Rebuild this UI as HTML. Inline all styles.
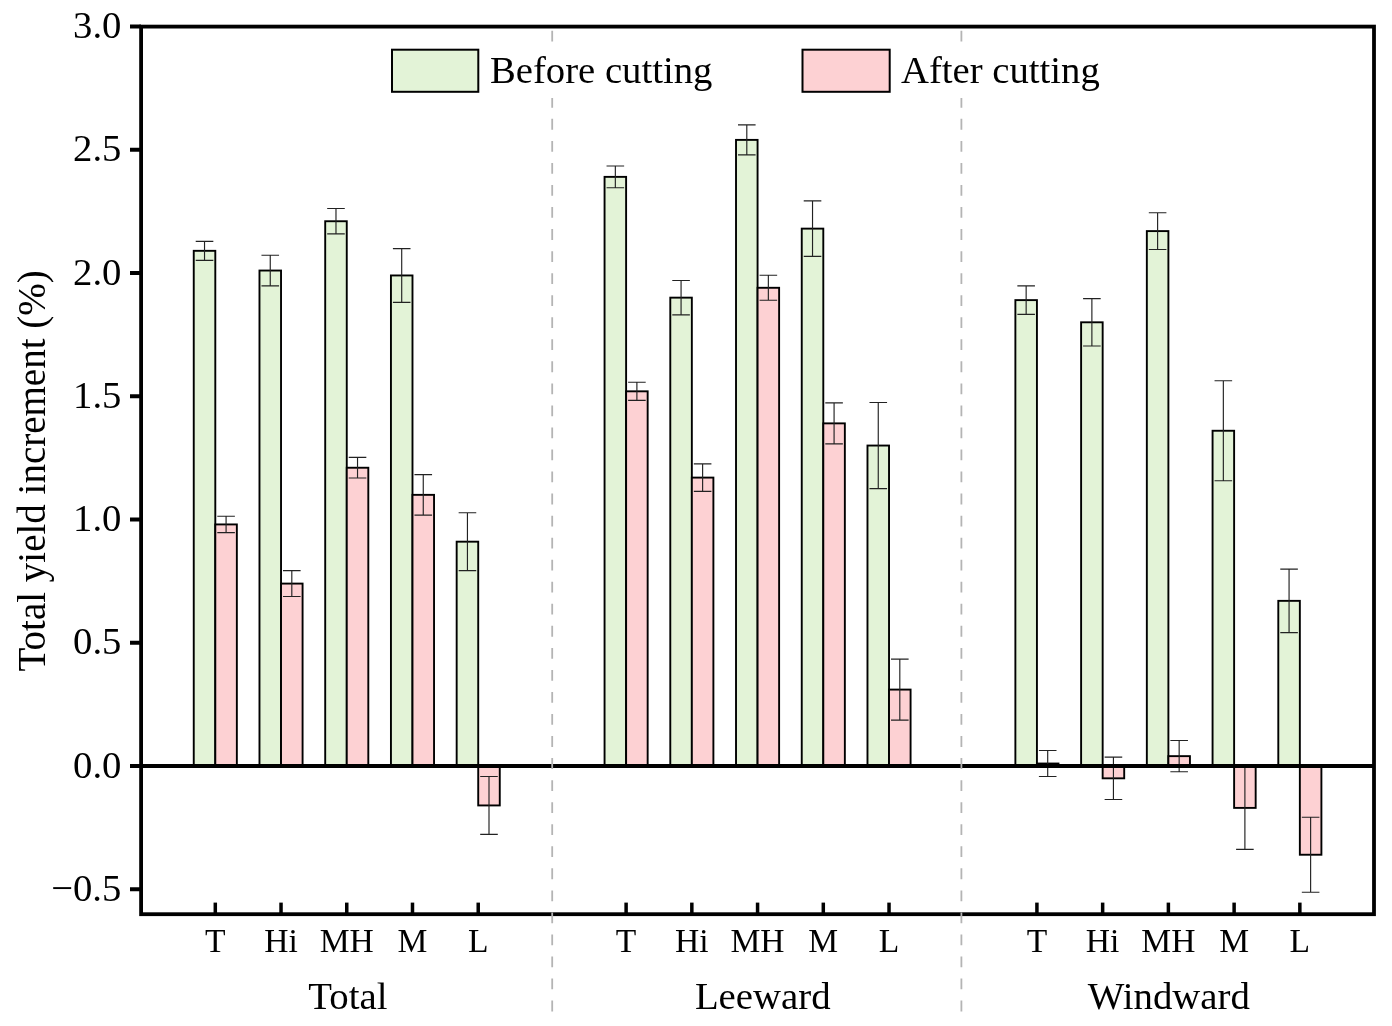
<!DOCTYPE html>
<html><head><meta charset="utf-8"><title>Total yield increment</title>
<style>html,body{margin:0;padding:0;background:#fff;}svg{display:block;will-change:transform;}text{font-family:"Liberation Serif",serif;fill:#000;}</style>
</head><body>
<svg width="1392" height="1026" viewBox="0 0 1392 1026">
<rect x="0" y="0" width="1392" height="1026" fill="#fff"/>
<g stroke="#000" stroke-width="1.9" stroke-linejoin="miter">
<rect x="193.75" y="250.82" width="21.55" height="515.18" fill="#E3F3D7"/>
<rect x="215.30" y="524.43" width="21.55" height="241.57" fill="#FDD1D3"/>
<rect x="259.48" y="270.54" width="21.55" height="495.46" fill="#E3F3D7"/>
<rect x="281.03" y="583.59" width="21.55" height="182.41" fill="#FDD1D3"/>
<rect x="325.21" y="221.24" width="21.55" height="544.76" fill="#E3F3D7"/>
<rect x="346.76" y="467.74" width="21.55" height="298.26" fill="#FDD1D3"/>
<rect x="390.94" y="275.46" width="21.55" height="490.54" fill="#E3F3D7"/>
<rect x="412.49" y="494.85" width="21.55" height="271.15" fill="#FDD1D3"/>
<rect x="456.67" y="541.68" width="21.55" height="224.32" fill="#E3F3D7"/>
<rect x="478.22" y="766.00" width="21.55" height="39.44" fill="#FDD1D3"/>
<rect x="604.56" y="176.87" width="21.55" height="589.13" fill="#E3F3D7"/>
<rect x="626.11" y="391.32" width="21.55" height="374.68" fill="#FDD1D3"/>
<rect x="670.29" y="297.65" width="21.55" height="468.35" fill="#E3F3D7"/>
<rect x="691.84" y="477.60" width="21.55" height="288.40" fill="#FDD1D3"/>
<rect x="736.02" y="139.89" width="21.55" height="626.11" fill="#E3F3D7"/>
<rect x="757.57" y="287.79" width="21.55" height="478.21" fill="#FDD1D3"/>
<rect x="801.75" y="228.63" width="21.55" height="537.37" fill="#E3F3D7"/>
<rect x="823.30" y="423.37" width="21.55" height="342.63" fill="#FDD1D3"/>
<rect x="867.48" y="445.55" width="21.55" height="320.45" fill="#E3F3D7"/>
<rect x="889.03" y="689.59" width="21.55" height="76.41" fill="#FDD1D3"/>
<rect x="1015.38" y="300.12" width="21.55" height="465.88" fill="#E3F3D7"/>
<rect x="1036.92" y="763.53" width="21.55" height="2.47" fill="#FDD1D3"/>
<rect x="1081.11" y="322.30" width="21.55" height="443.70" fill="#E3F3D7"/>
<rect x="1102.65" y="766.00" width="21.55" height="12.33" fill="#FDD1D3"/>
<rect x="1146.84" y="231.10" width="21.55" height="534.90" fill="#E3F3D7"/>
<rect x="1168.38" y="756.14" width="21.55" height="9.86" fill="#FDD1D3"/>
<rect x="1212.57" y="430.76" width="21.55" height="335.24" fill="#E3F3D7"/>
<rect x="1234.12" y="766.00" width="21.55" height="41.90" fill="#FDD1D3"/>
<rect x="1278.30" y="600.85" width="21.55" height="165.15" fill="#E3F3D7"/>
<rect x="1299.85" y="766.00" width="21.55" height="88.74" fill="#FDD1D3"/>
</g>
<g stroke="#222" stroke-width="1.15" fill="none">
<path d="M204.53 241.32V260.32M195.72 241.32H213.33M195.72 260.32H213.33"/>
<path d="M226.08 516.23V532.63M217.28 516.23H234.88M217.28 532.63H234.88"/>
<path d="M270.25 255.24V285.84M261.45 255.24H279.06M261.45 285.84H279.06"/>
<path d="M291.81 570.69V596.49M283.00 570.69H300.61M283.00 596.49H300.61"/>
<path d="M335.98 208.54V233.94M327.18 208.54H344.78M327.18 233.94H344.78"/>
<path d="M357.53 457.44V478.04M348.73 457.44H366.33M348.73 478.04H366.33"/>
<path d="M401.71 248.56V302.36M392.91 248.56H410.51M392.91 302.36H410.51"/>
<path d="M423.26 474.55V515.15M414.46 474.55H432.06M414.46 515.15H432.06"/>
<path d="M467.44 512.78V570.58M458.64 512.78H476.25M458.64 570.58H476.25"/>
<path d="M489.00 776.54V834.34M480.19 776.54H497.80M480.19 834.34H497.80"/>
<path d="M615.34 165.97V187.77M606.54 165.97H624.14M606.54 187.77H624.14"/>
<path d="M636.89 382.22V400.42M628.09 382.22H645.69M628.09 400.42H645.69"/>
<path d="M681.07 280.45V314.85M672.27 280.45H689.87M672.27 314.85H689.87"/>
<path d="M702.62 463.80V491.40M693.82 463.80H711.42M693.82 491.40H711.42"/>
<path d="M746.80 124.89V154.89M738.00 124.89H755.60M738.00 154.89H755.60"/>
<path d="M768.35 275.29V300.29M759.55 275.29H777.15M759.55 300.29H777.15"/>
<path d="M812.53 200.93V256.33M803.73 200.93H821.33M803.73 256.33H821.33"/>
<path d="M834.08 402.87V443.87M825.28 402.87H842.88M825.28 443.87H842.88"/>
<path d="M878.26 402.45V488.65M869.46 402.45H887.06M869.46 488.65H887.06"/>
<path d="M899.81 659.09V720.09M891.01 659.09H908.61M891.01 720.09H908.61"/>
<path d="M1026.15 285.92V314.31M1017.35 285.92H1034.95M1017.35 314.31H1034.95"/>
<path d="M1047.70 750.53V776.53M1038.90 750.53H1056.50M1038.90 776.53H1056.50"/>
<path d="M1091.88 298.60V346.00M1083.08 298.60H1100.68M1083.08 346.00H1100.68"/>
<path d="M1113.43 757.12V799.53M1104.63 757.12H1122.23M1104.63 799.53H1122.23"/>
<path d="M1157.61 212.70V249.50M1148.81 212.70H1166.41M1148.81 249.50H1166.41"/>
<path d="M1179.16 740.54V771.74M1170.36 740.54H1187.96M1170.36 771.74H1187.96"/>
<path d="M1223.34 380.76V480.76M1214.54 380.76H1232.14M1214.54 480.76H1232.14"/>
<path d="M1244.89 766.40V849.40M1236.09 766.40H1253.69M1236.09 849.40H1253.69"/>
<path d="M1289.07 569.14V632.55M1280.27 569.14H1297.87M1280.27 632.55H1297.87"/>
<path d="M1310.62 817.24V892.24M1301.82 817.24H1319.42M1301.82 892.24H1319.42"/>
</g>
<line x1="141" y1="766.0" x2="1374" y2="766.0" stroke="#000" stroke-width="4"/>
<rect x="141.1" y="26.6" width="1232.9" height="887.6" fill="none" stroke="#000" stroke-width="3.8"/>
<g stroke="#000" stroke-width="4">
<line x1="130" y1="26.50" x2="141" y2="26.50"/>
<line x1="130" y1="149.75" x2="141" y2="149.75"/>
<line x1="130" y1="273.00" x2="141" y2="273.00"/>
<line x1="130" y1="396.25" x2="141" y2="396.25"/>
<line x1="130" y1="519.50" x2="141" y2="519.50"/>
<line x1="130" y1="642.75" x2="141" y2="642.75"/>
<line x1="130" y1="766.00" x2="141" y2="766.00"/>
<line x1="130" y1="889.25" x2="141" y2="889.25"/>
</g><g stroke="#000" stroke-width="3.5">
<line x1="215.30" y1="902.6" x2="215.30" y2="914.2"/>
<line x1="281.03" y1="902.6" x2="281.03" y2="914.2"/>
<line x1="346.76" y1="902.6" x2="346.76" y2="914.2"/>
<line x1="412.49" y1="902.6" x2="412.49" y2="914.2"/>
<line x1="478.22" y1="902.6" x2="478.22" y2="914.2"/>
<line x1="626.11" y1="902.6" x2="626.11" y2="914.2"/>
<line x1="691.84" y1="902.6" x2="691.84" y2="914.2"/>
<line x1="757.57" y1="902.6" x2="757.57" y2="914.2"/>
<line x1="823.30" y1="902.6" x2="823.30" y2="914.2"/>
<line x1="889.03" y1="902.6" x2="889.03" y2="914.2"/>
<line x1="1036.92" y1="902.6" x2="1036.92" y2="914.2"/>
<line x1="1102.65" y1="902.6" x2="1102.65" y2="914.2"/>
<line x1="1168.38" y1="902.6" x2="1168.38" y2="914.2"/>
<line x1="1234.12" y1="902.6" x2="1234.12" y2="914.2"/>
<line x1="1299.85" y1="902.6" x2="1299.85" y2="914.2"/>
</g>
<g stroke="#B4B4B4" stroke-width="1.8" stroke-dasharray="10.8 11.243">
<line x1="552.2" y1="30.7" x2="552.2" y2="1011.4"/>
<line x1="961.4" y1="30.7" x2="961.4" y2="1011.4"/>
</g>
<rect x="384" y="42" width="730" height="56" fill="#fff"/>
<rect x="392" y="49.7" width="86.3" height="42.1" fill="#E3F3D7" stroke="#000" stroke-width="2"/>
<rect x="802.5" y="49.7" width="87.2" height="42.1" fill="#FDD1D3" stroke="#000" stroke-width="2"/>
<text x="490" y="82.6" font-size="38.7">Before cutting</text>
<text x="901" y="82.6" font-size="38.7">After cutting</text>
<g font-size="38.7" text-anchor="end">
<text x="121.4" y="38.00">3.0</text>
<text x="121.4" y="161.25">2.5</text>
<text x="121.4" y="284.50">2.0</text>
<text x="121.4" y="407.75">1.5</text>
<text x="121.4" y="531.00">1.0</text>
<text x="121.4" y="654.25">0.5</text>
<text x="121.4" y="777.50">0.0</text>
<text x="121.4" y="900.75">−0.5</text>
</g>
<g font-size="33.6" text-anchor="middle">
<text x="215.30" y="952">T</text>
<text x="281.03" y="952">Hi</text>
<text x="346.76" y="952">MH</text>
<text x="412.49" y="952">M</text>
<text x="478.22" y="952">L</text>
<text x="626.11" y="952">T</text>
<text x="691.84" y="952">Hi</text>
<text x="757.57" y="952">MH</text>
<text x="823.30" y="952">M</text>
<text x="889.03" y="952">L</text>
<text x="1036.92" y="952">T</text>
<text x="1102.65" y="952">Hi</text>
<text x="1168.38" y="952">MH</text>
<text x="1234.12" y="952">M</text>
<text x="1299.85" y="952">L</text>
</g>
<g font-size="38.8" text-anchor="middle">
<text x="347.86" y="1008.7">Total</text>
<text x="762.77" y="1008.7">Leeward</text>
<text x="1168.79" y="1008.7">Windward</text>
</g>
<text transform="translate(44.9 470.9) rotate(-90)" font-size="39" text-anchor="middle">Total yield increment (%)</text>
</svg>
</body></html>
